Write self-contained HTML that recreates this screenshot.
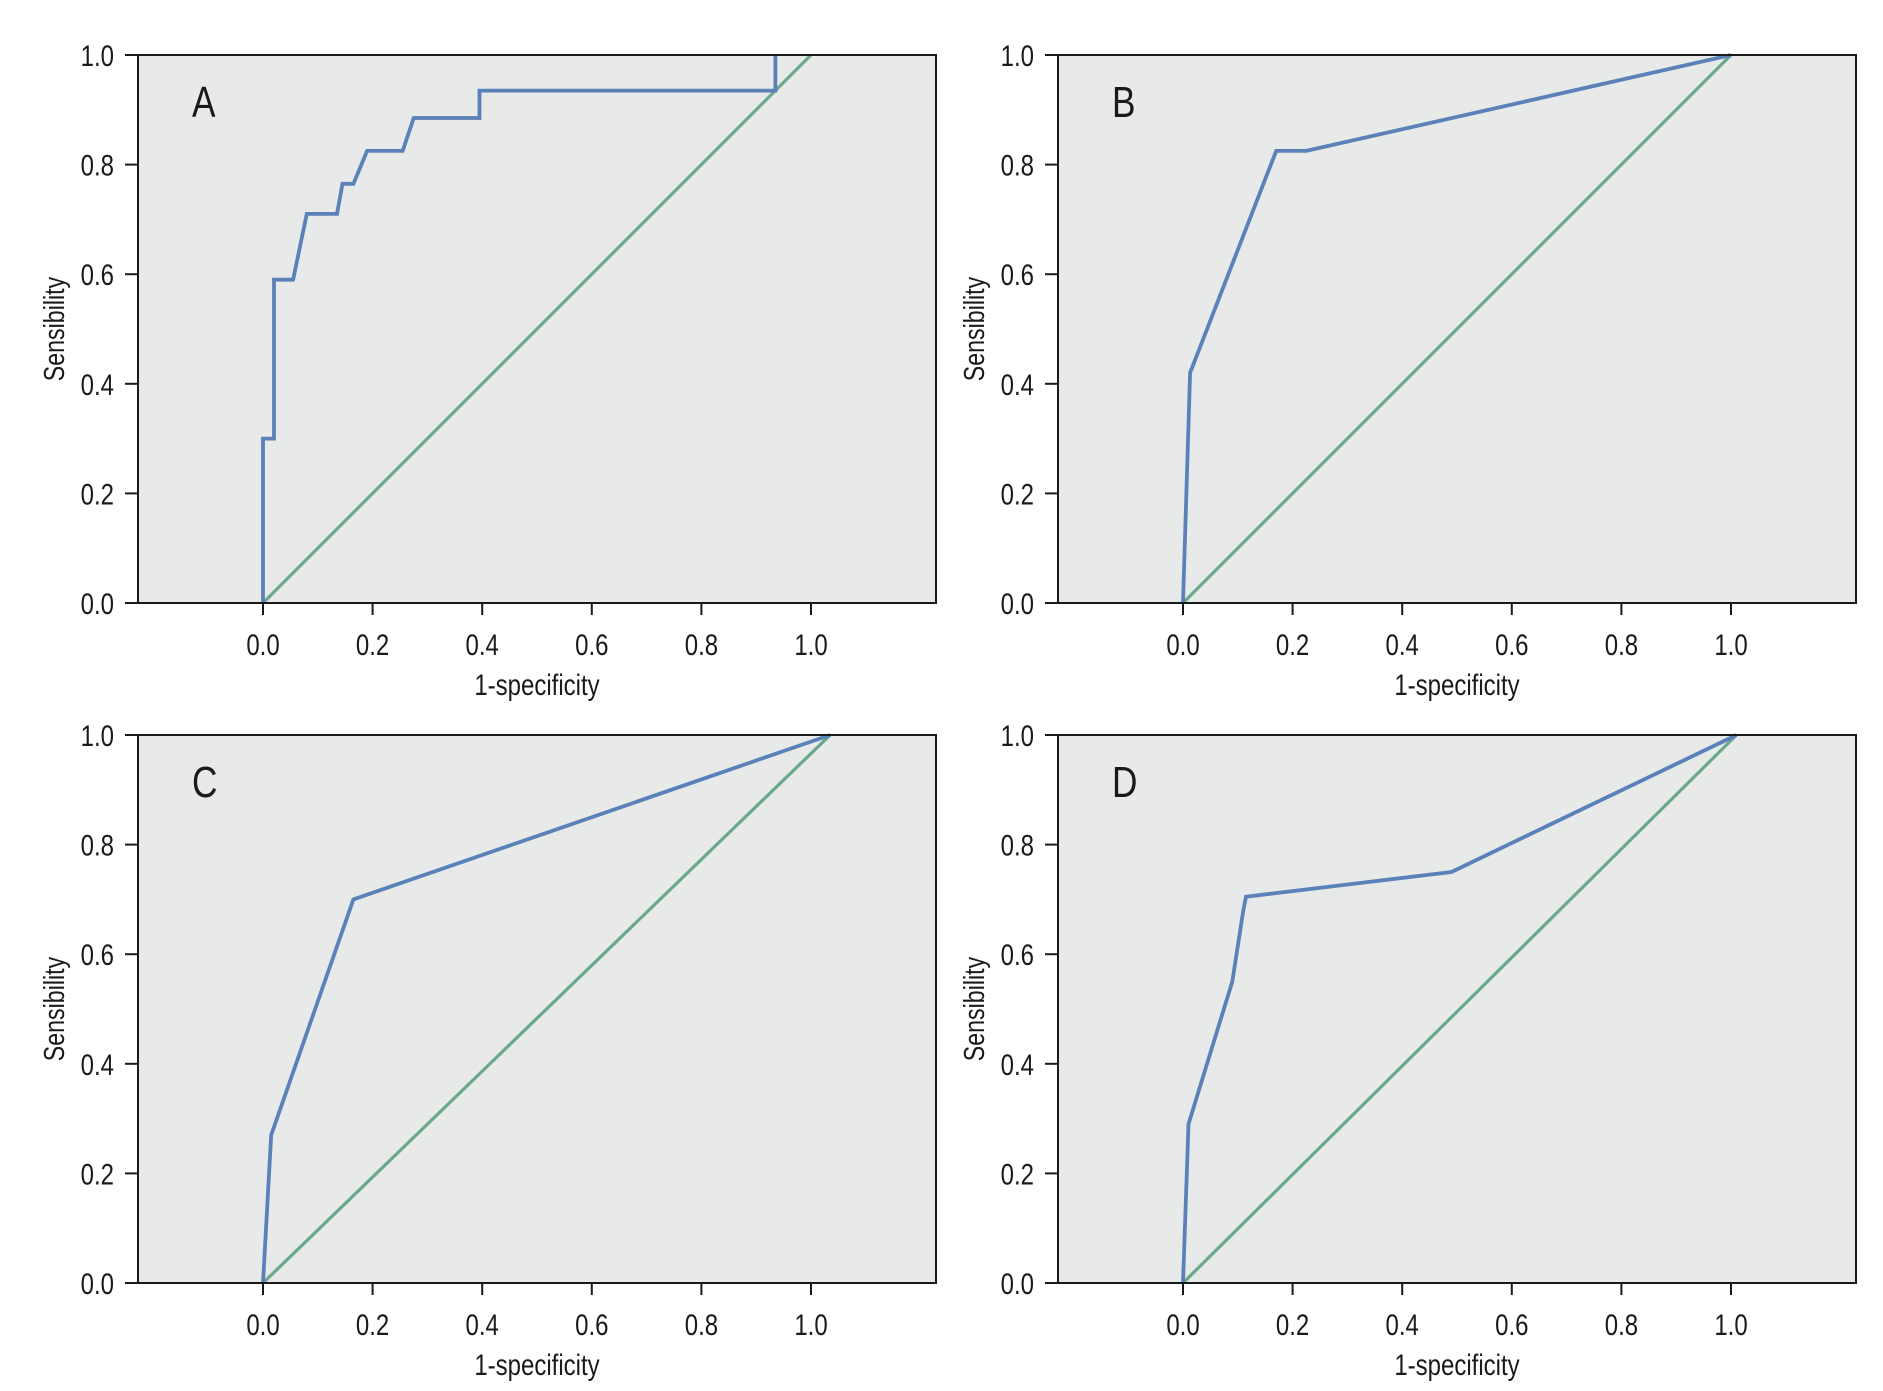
<!DOCTYPE html>
<html><head><meta charset="utf-8">
<style>
html,body{margin:0;padding:0;background:#fff;}
svg{display:block;}
text{font-family:"Liberation Sans Narrow","Liberation Sans",sans-serif;fill:#1a1a1a;}
</style></head>
<body>
<svg id="fig" width="1883" height="1391" viewBox="0 0 1883 1391" xmlns="http://www.w3.org/2000/svg"></svg>
<script>
// Panel data (1-specificity, sensitivity)
const panelLabels = ["A","B","C","D"];
const rocXA = [0,0,0.02,0.02,0.055,0.08,0.135,0.145,0.165,0.19,0.255,0.275,0.395,0.395,0.935,0.935];
const rocYA = [0,0.30,0.30,0.59,0.59,0.71,0.71,0.765,0.765,0.825,0.825,0.885,0.885,0.935,0.935,1.0];
const rocXB = [0,0.013,0.17,0.225,1.0];
const rocYB = [0,0.42,0.825,0.825,1.0];
const rocXC = [0,0.015,0.165,1.035];
const rocYC = [0,0.27,0.70,1.0];
const rocXD = [0,0.01,0.09,0.11,0.115,0.49,1.01];
const rocYD = [0,0.29,0.55,0.68,0.705,0.75,1.0];
const refEndX = [1.0,1.0,1.035,1.01];
const refEndY = [1.0,1.0,1.0,1.0];
const xTicks = [0,0.2,0.4,0.6,0.8,1.0];
const yTicks = [0,0.2,0.4,0.6,0.8,1.0];
const xTickLabels = ["0.0","0.2","0.4","0.6","0.8","1.0"];
const yTickLabels = ["0.0","0.2","0.4","0.6","0.8","1.0"];

const rocX = [rocXA,rocXB,rocXC,rocXD];
const rocY = [rocYA,rocYB,rocYC,rocYD];
const NS = "http://www.w3.org/2000/svg";
const svg = document.getElementById("fig");
const lefts = [138,1058,138,1058];
const tops = [55,55,735,735];
const W = 798, H = 548, UNIT = 548, X0OFF = 125;
const CX = 0.8;

function mk(tag, attrs, parent){
  const e = document.createElementNS(NS, tag);
  for (const k in attrs) e.setAttribute(k, attrs[k]);
  (parent||svg).appendChild(e);
  return e;
}
function txt(x,y,anchor,size,str,parent,rot){
  const t = mk("text",{x:0,y:0,"text-anchor":anchor,"font-size":size,
    transform:"translate("+x+","+y+")"+(rot?" rotate(-90)":"")+" scale("+CX+",1)"},parent);
  t.textContent = str;
  return t;
}

for (let p=0;p<4;p++){
  const L = lefts[p], T = tops[p];
  const sx = v => L + X0OFF + v*UNIT;
  const sy = v => T + H - v*H;
  const g = mk("g",{});
  
  
  const bg = mk("rect",{x:L,y:T,width:W,height:H,fill:"#e8eaea",stroke:"none"},g);
  
  
  const ref = mk("line",{x1:sx(0),y1:sy(0),x2:sx(refEndX[p]),y2:sy(refEndY[p]),stroke:"#6aa88a","stroke-width":3.2},g);
  
  
  const pts = rocX[p].map((x,i)=>sx(x).toFixed(1)+","+sy(rocY[p][i]).toFixed(1)).join(" ");
  const roc = mk("polyline",{points:pts,fill:"none",stroke:"#5a82b8","stroke-width":3.8,"stroke-linejoin":"miter"},g);
  
  
  const fr = mk("rect",{x:L,y:T,width:W,height:H,fill:"none",stroke:"#1a1a1a","stroke-width":2},g);
  
  
  yTicks.forEach((v,i)=>{
    mk("line",{x1:L-13,y1:sy(v),x2:L,y2:sy(v),stroke:"#1a1a1a","stroke-width":2},g);
    const t = txt(L-24,sy(v)+11,"end",30,yTickLabels[i],g);
    
    
  });
  xTicks.forEach((v,i)=>{
    mk("line",{x1:sx(v),y1:T+H,x2:sx(v),y2:T+H+12,stroke:"#1a1a1a","stroke-width":2},g);
    const t = txt(sx(v),T+H+52,"middle",30,xTickLabels[i],g);
    
    
  });
  const xt = txt(sx(0.5),T+H+92,"middle",30,"1-specificity",g);
  
  
  const yt = txt(L-74,T+H/2,"middle",29,"Sensibility",g,true);
  
  
  const pl = txt(L+54,T+62,"start",44,panelLabels[p],g);
  
  
}
</script>
</body></html>
